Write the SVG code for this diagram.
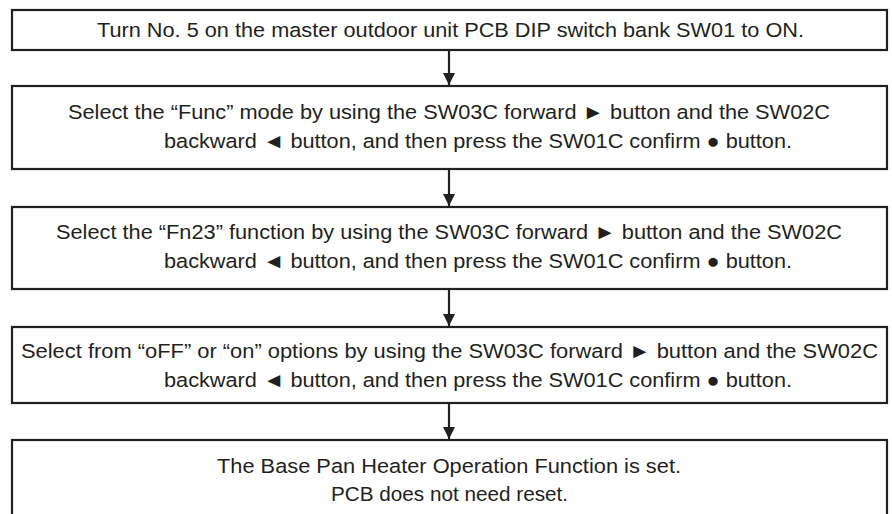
<svg xmlns="http://www.w3.org/2000/svg" width="892" height="514" viewBox="0 0 892 514">
<style>
.box{fill:#fff;stroke:#231f20;stroke-width:2.2}
.t{font-family:"Liberation Sans",Arial,sans-serif;font-size:20.5px;fill:#231f20}
.c{stroke:#231f20;stroke-width:2.2;fill:none}
</style>
<defs>
<marker id="ah" viewBox="0 0 12 16" refX="12" refY="8" markerWidth="12" markerHeight="16" markerUnits="userSpaceOnUse" orient="auto">
<path d="M0,2 L12,8 L0,14 Z" fill="#231f20"/>
</marker>
</defs>
<rect width="892" height="514" fill="#fff"/>
<g id="n1">
<rect class="box" x="12" y="10" width="875" height="40"/>
<text class="t" x="97" y="37" textLength="707" lengthAdjust="spacingAndGlyphs">Turn No. 5 on the master outdoor unit PCB DIP switch bank SW01 to ON.</text>
</g>
<g id="n2">
<rect class="box" x="12" y="86" width="875" height="83"/>
<text class="t" x="68" y="119" textLength="762" lengthAdjust="spacingAndGlyphs">Select the “Func” mode by using the SW03C forward ► button and the SW02C</text>
<text class="t" x="164" y="148" textLength="628" lengthAdjust="spacingAndGlyphs">backward ◄ button, and then press the SW01C confirm ● button.</text>
</g>
<g id="n3">
<rect class="box" x="12" y="207" width="875" height="82"/>
<text class="t" x="56" y="239" textLength="786" lengthAdjust="spacingAndGlyphs">Select the “Fn23” function by using the SW03C forward ► button and the SW02C</text>
<text class="t" x="164" y="268" textLength="628" lengthAdjust="spacingAndGlyphs">backward ◄ button, and then press the SW01C confirm ● button.</text>
</g>
<g id="n4">
<rect class="box" x="12" y="327" width="875" height="76"/>
<text class="t" x="21" y="358" textLength="857" lengthAdjust="spacingAndGlyphs">Select from “oFF” or “on” options by using the SW03C forward ► button and the SW02C</text>
<text class="t" x="164" y="387" textLength="628" lengthAdjust="spacingAndGlyphs">backward ◄ button, and then press the SW01C confirm ● button.</text>
</g>
<g id="n5">
<rect class="box" x="12" y="440" width="875" height="80"/>
<text class="t" x="217" y="473" textLength="464" lengthAdjust="spacingAndGlyphs">The Base Pan Heater Operation Function is set.</text>
<text class="t" x="331" y="501" textLength="237" lengthAdjust="spacingAndGlyphs">PCB does not need reset.</text>
</g>
<g id="connectors">
<line class="c" x1="449" y1="51" x2="449" y2="85" marker-end="url(#ah)"/>
<line class="c" x1="449" y1="170" x2="449" y2="206" marker-end="url(#ah)"/>
<line class="c" x1="449" y1="290" x2="449" y2="326" marker-end="url(#ah)"/>
<line class="c" x1="449" y1="404" x2="449" y2="439" marker-end="url(#ah)"/>
</g>
</svg>
